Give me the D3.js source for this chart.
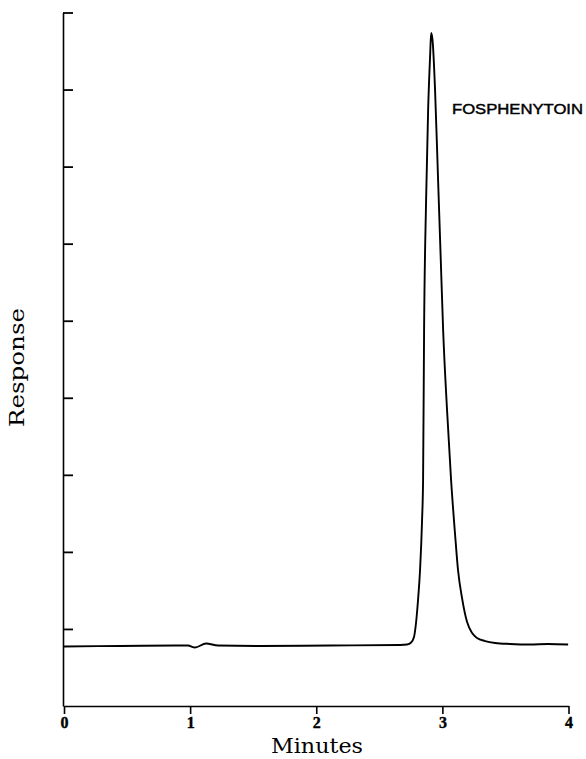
<!DOCTYPE html>
<html>
<head>
<meta charset="utf-8">
<script src="https://cdn.jsdelivr.net/npm/d3@7"></script>
<style>
  html, body { margin: 0; padding: 0; background: #fff; }
  svg { display: block; }
</style>
</head>
<body>
<svg id="chart" width="586" height="759"></svg>
<script>
// Chromatogram trace: retention time (minutes) and detector response (arbitrary units)
const timeMin = [
  0.000, 0.444, 0.983, 1.039, 1.126, 1.221, 1.554, 2.109, 2.665, 2.720,
  2.752, 2.775, 2.791, 2.807, 2.823, 2.839, 2.847, 2.855, 2.871, 2.887,
  2.903, 2.911, 2.922, 2.942, 2.966, 2.986, 3.006, 3.037, 3.069, 3.101,
  3.124, 3.156, 3.196, 3.236, 3.275, 3.339, 3.418, 3.537, 3.695, 3.838, 3.997
];
const response = [
  0.772, 0.779, 0.785, 0.759, 0.811, 0.785, 0.779, 0.785, 0.792, 0.798,
  0.824, 0.895, 1.077, 1.376, 1.765, 2.414, 2.933, 4.879, 6.566, 7.734,
  8.448, 8.733, 8.643, 7.994, 6.826, 5.853, 4.879, 3.841, 2.933, 2.219,
  1.765, 1.401, 1.090, 0.947, 0.882, 0.843, 0.818, 0.805, 0.798, 0.805, 0.798
];

const xTicks = [0, 1, 2, 3, 4];
const yTicks = [1, 2, 3, 4, 5, 6, 7, 8, 9];
const peakName = "FOSPHENYTOIN";
const xTitle = "Minutes";
const yTitle = "Response";

const svg = d3.select("#chart");

const x = d3.scaleLinear().domain([0, 4]).range([64, 568.5]);
const y = d3.scaleLinear().domain([0, 9]).range([706, 12.5]);

// x axis: ticks hang below the line, bold numerals
const xAxis = svg.append("g")
  .attr("transform", `translate(0,${y(0)})`)
  .call(d3.axisBottom(x).tickValues(xTicks).tickFormat(d3.format("d"))
    .tickSize(8).tickSizeOuter(0).tickPadding(3))
  .attr("font-size", 16)
  .attr("font-family", "'Liberation Serif', 'DejaVu Serif', serif");
xAxis.select(".domain").attr("stroke", "#000").attr("stroke-width", 1.6);
xAxis.selectAll(".tick line").attr("stroke", "#000").attr("stroke-width", 1.6);
xAxis.selectAll(".tick text")
  .attr("fill", "#000")
  .attr("font-weight", "bold")
  .attr("stroke", "#000")
  .attr("stroke-width", 0.4);

// y axis: unlabeled, ticks point into the plot
const yAxis = svg.append("g")
  .attr("transform", `translate(${x(0) - 1},0)`)
  .call(d3.axisLeft(y).tickValues(yTicks).tickFormat("")
    .tickSize(-10).tickSizeOuter(0));
yAxis.select(".domain").attr("stroke", "#000").attr("stroke-width", 1.6);
yAxis.selectAll(".tick line").attr("stroke", "#000").attr("stroke-width", 1.8);

// detector trace
const pts = timeMin.map((t, i) => [t, response[i]]);
const line = d3.line()
  .x(d => x(d[0]))
  .y(d => y(d[1]))
  .curve(d3.curveMonotoneX);

svg.append("path")
  .datum(pts)
  .attr("d", line)
  .attr("fill", "none")
  .attr("stroke", "#000")
  .attr("stroke-width", 1.9)
  .attr("stroke-linejoin", "round");

// peak label
svg.append("text")
  .attr("x", 452)
  .attr("y", 114)
  .attr("textLength", 131)
  .attr("lengthAdjust", "spacingAndGlyphs")
  .style("font-family", "'Liberation Sans', Arial, sans-serif")
  .style("font-size", "15px")
  .attr("fill", "#000")
  .attr("stroke", "#000")
  .attr("stroke-width", 0.45)
  .text(peakName);

// axis titles
svg.append("text")
  .attr("x", 317)
  .attr("y", 753)
  .attr("text-anchor", "middle")
  .attr("textLength", 92)
  .attr("lengthAdjust", "spacingAndGlyphs")
  .style("font-family", "'DejaVu Serif', serif")
  .style("font-size", "20px")
  .attr("fill", "#000")
  .text(xTitle);

svg.append("text")
  .attr("transform", "translate(24,367.5) rotate(-90)")
  .attr("text-anchor", "middle")
  .attr("textLength", 119)
  .attr("lengthAdjust", "spacingAndGlyphs")
  .style("font-family", "'DejaVu Serif', serif")
  .style("font-size", "20px")
  .attr("fill", "#000")
  .text(yTitle);
</script>
</body>
</html>
